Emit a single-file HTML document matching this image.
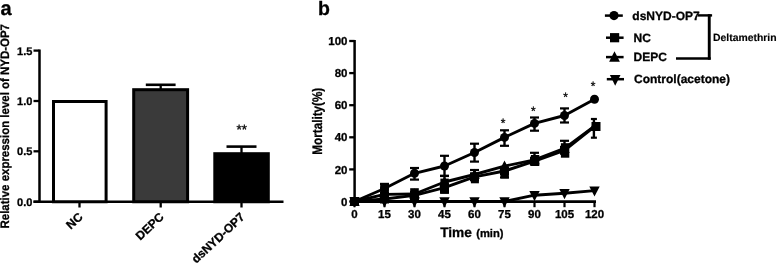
<!DOCTYPE html>
<html><head><meta charset="utf-8"><style>
html,body{margin:0;padding:0;background:#fff;width:778px;height:263px;overflow:hidden}
svg{display:block;will-change:transform}
text{font-family:"Liberation Sans", sans-serif;fill:#000;stroke:#000;stroke-width:0.3px;text-rendering:geometricPrecision}
</style></head><body>
<svg width="778" height="263" viewBox="0 0 778 263">
<text x="0.6" y="14.8" font-size="20" font-weight="bold">a</text>
<text transform="translate(8.8,228.5) rotate(-90) scale(0.932,1)" x="0" y="0" font-size="12.3" font-weight="bold">Relative expression level of NYD-OP7</text>
<line x1="39.5" y1="49.5" x2="39.5" y2="203" stroke="#000" stroke-width="2.5"/>
<line x1="33.5" y1="50.6" x2="39.5" y2="50.6" stroke="#000" stroke-width="2.3"/>
<text x="32.4" y="54.5" font-size="11" font-weight="bold" text-anchor="end">1.5</text>
<line x1="33.5" y1="101.0" x2="39.5" y2="101.0" stroke="#000" stroke-width="2.3"/>
<text x="32.4" y="104.9" font-size="11" font-weight="bold" text-anchor="end">1.0</text>
<line x1="33.5" y1="151.3" x2="39.5" y2="151.3" stroke="#000" stroke-width="2.3"/>
<text x="32.4" y="155.20000000000002" font-size="11" font-weight="bold" text-anchor="end">0.5</text>
<line x1="33.5" y1="201.7" x2="39.5" y2="201.7" stroke="#000" stroke-width="2.3"/>
<text x="32.4" y="205.6" font-size="11" font-weight="bold" text-anchor="end">0.0</text>
<line x1="33.5" y1="201.75" x2="283.5" y2="201.75" stroke="#000" stroke-width="2.7"/>
<rect x="53.5" y="101.5" width="52.599999999999994" height="100.25" fill="#fff" stroke="#000" stroke-width="3"/>
<rect x="133.7" y="89.7" width="53.900000000000006" height="112.05" fill="#3a3a3a" stroke="#000" stroke-width="3"/>
<rect x="214.8" y="153.7" width="53.5" height="48.05000000000001" fill="#000" stroke="#000" stroke-width="3"/>
<line x1="160.7" y1="89.2" x2="160.7" y2="84.8" stroke="#000" stroke-width="2.3"/>
<line x1="145.79999999999998" y1="84.8" x2="175.6" y2="84.8" stroke="#000" stroke-width="2.6"/>
<line x1="241.5" y1="153.2" x2="241.5" y2="146.6" stroke="#000" stroke-width="2.3"/>
<line x1="226.5" y1="146.6" x2="256.5" y2="146.6" stroke="#000" stroke-width="2.6"/>
<line x1="79.5" y1="201.75" x2="79.5" y2="207.5" stroke="#000" stroke-width="2.3"/>
<line x1="160.7" y1="201.75" x2="160.7" y2="207.5" stroke="#000" stroke-width="2.3"/>
<line x1="241.5" y1="201.75" x2="241.5" y2="207.5" stroke="#000" stroke-width="2.3"/>
<text x="241.7" y="133.52" font-size="13.5" text-anchor="middle">**</text>
<text transform="translate(77.5,211.5) rotate(-43)" x="0" y="0" font-size="12" font-weight="bold" text-anchor="end" dominant-baseline="hanging">NC</text>
<text transform="translate(158.7,211.5) rotate(-43)" x="0" y="0" font-size="12" font-weight="bold" text-anchor="end" dominant-baseline="hanging">DEPC</text>
<text transform="translate(239.5,211.5) rotate(-43)" x="0" y="0" font-size="12" font-weight="bold" text-anchor="end" dominant-baseline="hanging">dsNYD-OP7</text>
<text x="317.9" y="14.8" font-size="19.5" font-weight="bold">b</text>
<text transform="translate(321.9,154.7) rotate(-90) scale(0.848,1)" x="0" y="0" font-size="13.8" font-weight="bold">Mortality(%)</text>
<line x1="354.6" y1="40" x2="354.6" y2="203" stroke="#000" stroke-width="2.5"/>
<line x1="349.2" y1="201.50" x2="354.6" y2="201.50" stroke="#000" stroke-width="2.3"/>
<text x="347.5" y="205.60" font-size="11.5" font-weight="bold" text-anchor="end">0</text>
<line x1="349.2" y1="169.40" x2="354.6" y2="169.40" stroke="#000" stroke-width="2.3"/>
<text x="347.5" y="173.50" font-size="11.5" font-weight="bold" text-anchor="end">20</text>
<line x1="349.2" y1="137.30" x2="354.6" y2="137.30" stroke="#000" stroke-width="2.3"/>
<text x="347.5" y="141.40" font-size="11.5" font-weight="bold" text-anchor="end">40</text>
<line x1="349.2" y1="105.20" x2="354.6" y2="105.20" stroke="#000" stroke-width="2.3"/>
<text x="347.5" y="109.30" font-size="11.5" font-weight="bold" text-anchor="end">60</text>
<line x1="349.2" y1="73.10" x2="354.6" y2="73.10" stroke="#000" stroke-width="2.3"/>
<text x="347.5" y="77.20" font-size="11.5" font-weight="bold" text-anchor="end">80</text>
<line x1="349.2" y1="41.00" x2="354.6" y2="41.00" stroke="#000" stroke-width="2.3"/>
<text x="347.5" y="45.10" font-size="11.5" font-weight="bold" text-anchor="end">100</text>
<line x1="353.3" y1="201.6" x2="596" y2="201.6" stroke="#000" stroke-width="2.8"/>
<line x1="354.5" y1="201.6" x2="354.5" y2="207.2" stroke="#000" stroke-width="2.2"/>
<text x="354.5" y="218.3" font-size="11.5" font-weight="bold" text-anchor="middle">0</text>
<line x1="384.5" y1="201.6" x2="384.5" y2="207.2" stroke="#000" stroke-width="2.2"/>
<text x="384.5" y="218.3" font-size="11.5" font-weight="bold" text-anchor="middle">15</text>
<line x1="414.5" y1="201.6" x2="414.5" y2="207.2" stroke="#000" stroke-width="2.2"/>
<text x="414.5" y="218.3" font-size="11.5" font-weight="bold" text-anchor="middle">30</text>
<line x1="444.5" y1="201.6" x2="444.5" y2="207.2" stroke="#000" stroke-width="2.2"/>
<text x="444.5" y="218.3" font-size="11.5" font-weight="bold" text-anchor="middle">45</text>
<line x1="474.5" y1="201.6" x2="474.5" y2="207.2" stroke="#000" stroke-width="2.2"/>
<text x="474.5" y="218.3" font-size="11.5" font-weight="bold" text-anchor="middle">60</text>
<line x1="504.5" y1="201.6" x2="504.5" y2="207.2" stroke="#000" stroke-width="2.2"/>
<text x="504.5" y="218.3" font-size="11.5" font-weight="bold" text-anchor="middle">75</text>
<line x1="534.5" y1="201.6" x2="534.5" y2="207.2" stroke="#000" stroke-width="2.2"/>
<text x="534.5" y="218.3" font-size="11.5" font-weight="bold" text-anchor="middle">90</text>
<line x1="564.5" y1="201.6" x2="564.5" y2="207.2" stroke="#000" stroke-width="2.2"/>
<text x="564.5" y="218.3" font-size="11.5" font-weight="bold" text-anchor="middle">105</text>
<line x1="594.5" y1="201.6" x2="594.5" y2="207.2" stroke="#000" stroke-width="2.2"/>
<text x="594.5" y="218.3" font-size="11.5" font-weight="bold" text-anchor="middle">120</text>
<text x="440.2" y="237.3" font-size="13.7" font-weight="bold">Time</text>
<text x="476.2" y="237.3" font-size="11.2" font-weight="bold">(min)</text>
<polyline points="354.50,201.50 384.50,201.50 414.50,201.50 444.50,201.50 474.50,201.50 504.50,201.50 534.50,195.20 564.50,193.20 594.50,190.60" fill="none" stroke="#000" stroke-width="2.9" stroke-linejoin="round"/>
<path d="M349.30,197.30 L359.70,197.30 L354.50,207.50 Z" fill="#000"/>
<path d="M379.30,197.30 L389.70,197.30 L384.50,207.50 Z" fill="#000"/>
<path d="M409.30,197.30 L419.70,197.30 L414.50,207.50 Z" fill="#000"/>
<path d="M439.30,197.30 L449.70,197.30 L444.50,207.50 Z" fill="#000"/>
<path d="M469.30,197.30 L479.70,197.30 L474.50,207.50 Z" fill="#000"/>
<path d="M499.30,197.30 L509.70,197.30 L504.50,207.50 Z" fill="#000"/>
<path d="M529.30,191.00 L539.70,191.00 L534.50,201.20 Z" fill="#000"/>
<path d="M559.30,189.00 L569.70,189.00 L564.50,199.20 Z" fill="#000"/>
<path d="M589.30,186.40 L599.70,186.40 L594.50,196.60 Z" fill="#000"/>
<rect x="380.2" y="183" width="8.7" height="17" fill="#000"/>
<rect x="410.2" y="188.2" width="8.6" height="12" fill="#000"/>
<rect x="440.4" y="178.6" width="8.4" height="15.1" fill="#000"/>
<rect x="470.9" y="172.6" width="8.0" height="10.7" fill="#000"/>
<rect x="500.7" y="169.5" width="8.1" height="9.0" fill="#000"/>
<rect x="530.9" y="155.0" width="8.4" height="11.0" fill="#000"/>
<rect x="560.9" y="143.2" width="8.4" height="14.5" fill="#000"/>
<polyline points="354.50,201.50 384.50,199.00 414.50,195.40 444.50,187.60 474.50,176.80 504.50,171.00 534.50,161.20 564.50,150.30 594.50,126.50" fill="none" stroke="#000" stroke-width="2.9" stroke-linejoin="round"/>
<rect x="350.00" y="197.00" width="9" height="9" fill="#000"/>
<rect x="380.00" y="194.50" width="9" height="9" fill="#000"/>
<rect x="410.00" y="190.90" width="9" height="9" fill="#000"/>
<line x1="444.50" y1="187.60" x2="444.50" y2="192.60" stroke="#000" stroke-width="2.4"/>
<line x1="440.00" y1="192.60" x2="449.00" y2="192.60" stroke="#000" stroke-width="2.2"/>
<rect x="440.00" y="183.10" width="9" height="9" fill="#000"/>
<rect x="470.00" y="172.30" width="9" height="9" fill="#000"/>
<line x1="504.50" y1="171.00" x2="504.50" y2="177.40" stroke="#000" stroke-width="2.4"/>
<line x1="500.00" y1="177.40" x2="509.00" y2="177.40" stroke="#000" stroke-width="2.2"/>
<rect x="500.00" y="166.50" width="9" height="9" fill="#000"/>
<rect x="530.00" y="156.70" width="9" height="9" fill="#000"/>
<rect x="560.00" y="145.80" width="9" height="9" fill="#000"/>
<rect x="591.50" y="122.00" width="9" height="9" fill="#000"/>
<polyline points="354.50,201.50 384.50,194.40 414.50,194.00 444.50,182.00 474.50,174.50 504.50,166.10 534.50,159.80 564.50,148.40 594.50,126.20" fill="none" stroke="#000" stroke-width="2.9" stroke-linejoin="round"/>
<path d="M354.50,195.80 L359.70,206.00 L349.30,206.00 Z" fill="#000"/>
<path d="M384.50,188.70 L389.70,198.90 L379.30,198.90 Z" fill="#000"/>
<path d="M414.50,188.30 L419.70,198.50 L409.30,198.50 Z" fill="#000"/>
<line x1="444.50" y1="182.00" x2="444.50" y2="176.00" stroke="#000" stroke-width="2.4"/>
<line x1="440.00" y1="176.00" x2="449.00" y2="176.00" stroke="#000" stroke-width="2.2"/>
<path d="M444.50,176.30 L449.70,186.50 L439.30,186.50 Z" fill="#000"/>
<line x1="474.50" y1="174.50" x2="474.50" y2="170.00" stroke="#000" stroke-width="2.4"/>
<line x1="470.00" y1="170.00" x2="479.00" y2="170.00" stroke="#000" stroke-width="2.2"/>
<path d="M474.50,168.80 L479.70,179.00 L469.30,179.00 Z" fill="#000"/>
<path d="M504.50,160.40 L509.70,170.60 L499.30,170.60 Z" fill="#000"/>
<line x1="534.50" y1="159.80" x2="534.50" y2="152.80" stroke="#000" stroke-width="2.4"/>
<line x1="530.00" y1="152.80" x2="539.00" y2="152.80" stroke="#000" stroke-width="2.2"/>
<path d="M534.50,154.10 L539.70,164.30 L529.30,164.30 Z" fill="#000"/>
<line x1="564.50" y1="148.40" x2="564.50" y2="140.80" stroke="#000" stroke-width="2.4"/>
<line x1="560.00" y1="140.80" x2="569.00" y2="140.80" stroke="#000" stroke-width="2.2"/>
<path d="M564.50,142.70 L569.70,152.90 L559.30,152.90 Z" fill="#000"/>
<line x1="593.90" y1="126.20" x2="593.90" y2="119.00" stroke="#000" stroke-width="2.4"/>
<line x1="590.90" y1="119.00" x2="596.90" y2="119.00" stroke="#000" stroke-width="2.2"/>
<line x1="593.90" y1="126.20" x2="593.90" y2="137.70" stroke="#000" stroke-width="2.4"/>
<line x1="590.90" y1="137.70" x2="596.90" y2="137.70" stroke="#000" stroke-width="2.2"/>
<path d="M594.50,120.50 L599.70,130.70 L589.30,130.70 Z" fill="#000"/>
<polyline points="354.50,201.50 384.50,188.50 414.50,173.30 444.50,166.00 474.50,152.50 504.50,137.40 534.50,123.40 564.50,115.50 594.50,99.20" fill="none" stroke="#000" stroke-width="2.9" stroke-linejoin="round"/>
<circle cx="354.50" cy="201.50" r="4.5" fill="#000"/>
<line x1="384.50" y1="188.50" x2="384.50" y2="183.90" stroke="#000" stroke-width="2.4"/>
<line x1="380.00" y1="183.90" x2="389.00" y2="183.90" stroke="#000" stroke-width="2.2"/>
<line x1="384.50" y1="188.50" x2="384.50" y2="193.10" stroke="#000" stroke-width="2.4"/>
<line x1="380.00" y1="193.10" x2="389.00" y2="193.10" stroke="#000" stroke-width="2.2"/>
<circle cx="384.50" cy="188.50" r="4.5" fill="#000"/>
<line x1="414.50" y1="173.30" x2="414.50" y2="168.00" stroke="#000" stroke-width="2.4"/>
<line x1="410.00" y1="168.00" x2="419.00" y2="168.00" stroke="#000" stroke-width="2.2"/>
<line x1="414.50" y1="173.30" x2="414.50" y2="179.60" stroke="#000" stroke-width="2.4"/>
<line x1="410.00" y1="179.60" x2="419.00" y2="179.60" stroke="#000" stroke-width="2.2"/>
<circle cx="414.50" cy="173.30" r="4.5" fill="#000"/>
<line x1="444.50" y1="166.00" x2="444.50" y2="155.80" stroke="#000" stroke-width="2.4"/>
<line x1="440.00" y1="155.80" x2="449.00" y2="155.80" stroke="#000" stroke-width="2.2"/>
<line x1="444.50" y1="166.00" x2="444.50" y2="175.80" stroke="#000" stroke-width="2.4"/>
<line x1="440.00" y1="175.80" x2="449.00" y2="175.80" stroke="#000" stroke-width="2.2"/>
<circle cx="444.50" cy="166.00" r="4.5" fill="#000"/>
<line x1="474.50" y1="152.50" x2="474.50" y2="143.70" stroke="#000" stroke-width="2.4"/>
<line x1="470.00" y1="143.70" x2="479.00" y2="143.70" stroke="#000" stroke-width="2.2"/>
<line x1="474.50" y1="152.50" x2="474.50" y2="161.60" stroke="#000" stroke-width="2.4"/>
<line x1="470.00" y1="161.60" x2="479.00" y2="161.60" stroke="#000" stroke-width="2.2"/>
<circle cx="474.50" cy="152.50" r="4.5" fill="#000"/>
<line x1="504.50" y1="137.40" x2="504.50" y2="130.30" stroke="#000" stroke-width="2.4"/>
<line x1="500.00" y1="130.30" x2="509.00" y2="130.30" stroke="#000" stroke-width="2.2"/>
<line x1="504.50" y1="137.40" x2="504.50" y2="145.80" stroke="#000" stroke-width="2.4"/>
<line x1="500.00" y1="145.80" x2="509.00" y2="145.80" stroke="#000" stroke-width="2.2"/>
<circle cx="504.50" cy="137.40" r="4.5" fill="#000"/>
<line x1="534.50" y1="123.40" x2="534.50" y2="117.50" stroke="#000" stroke-width="2.4"/>
<line x1="530.00" y1="117.50" x2="539.00" y2="117.50" stroke="#000" stroke-width="2.2"/>
<line x1="534.50" y1="123.40" x2="534.50" y2="130.70" stroke="#000" stroke-width="2.4"/>
<line x1="530.00" y1="130.70" x2="539.00" y2="130.70" stroke="#000" stroke-width="2.2"/>
<circle cx="534.50" cy="123.40" r="4.5" fill="#000"/>
<line x1="564.50" y1="115.50" x2="564.50" y2="108.40" stroke="#000" stroke-width="2.4"/>
<line x1="560.00" y1="108.40" x2="569.00" y2="108.40" stroke="#000" stroke-width="2.2"/>
<line x1="564.50" y1="115.50" x2="564.50" y2="122.50" stroke="#000" stroke-width="2.4"/>
<line x1="560.00" y1="122.50" x2="569.00" y2="122.50" stroke="#000" stroke-width="2.2"/>
<circle cx="564.50" cy="115.50" r="4.5" fill="#000"/>
<circle cx="594.50" cy="99.20" r="4.5" fill="#000"/>
<text x="503.1" y="127.40" font-size="12" text-anchor="middle">*</text>
<text x="533.25" y="114.95" font-size="12" text-anchor="middle">*</text>
<text x="565.65" y="101.10" font-size="12" text-anchor="middle">*</text>
<text x="593" y="90.10" font-size="12" text-anchor="middle">*</text>
<line x1="604.9" y1="15.6" x2="622.8" y2="15.6" stroke="#000" stroke-width="2.5"/>
<circle cx="614.00" cy="15.60" r="4.6" fill="#000"/>
<text x="632.3" y="19.6" font-size="12" font-weight="bold">dsNYD-OP7</text>
<line x1="606" y1="37.7" x2="623.6" y2="37.7" stroke="#000" stroke-width="2.5"/>
<rect x="610.00" y="33.10" width="9.2" height="9.2" fill="#000"/>
<text x="633.6" y="41.7" font-size="12" font-weight="bold">NC</text>
<line x1="606" y1="57.1" x2="623.6" y2="57.1" stroke="#000" stroke-width="2.5"/>
<path d="M614.50,51.20 L619.90,61.70 L609.10,61.70 Z" fill="#000"/>
<text x="633.6" y="61.1" font-size="12" font-weight="bold">DEPC</text>
<line x1="606.8" y1="79.2" x2="624" y2="79.2" stroke="#000" stroke-width="2.5"/>
<path d="M609.90,75.10 L620.50,75.10 L615.20,85.70 Z" fill="#000"/>
<text x="634.0" y="83.2" font-size="12" font-weight="bold">Control(acetone)</text>
<line x1="697.9" y1="15.4" x2="712.1" y2="15.4" stroke="#000" stroke-width="2.4"/>
<line x1="709.25" y1="14.2" x2="709.25" y2="59.7" stroke="#000" stroke-width="2.9"/>
<line x1="676" y1="58.45" x2="710.7" y2="58.45" stroke="#000" stroke-width="2.5"/>
<text x="713" y="41.3" font-size="10.4" font-weight="bold" style="stroke-width:0.15px">Deltamethrin</text>
</svg>
</body></html>
